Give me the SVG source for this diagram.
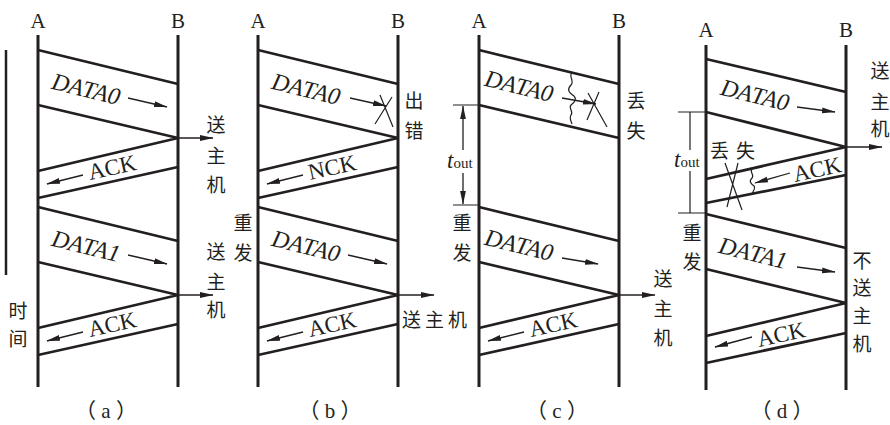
<svg xmlns="http://www.w3.org/2000/svg" width="890" height="425" viewBox="0 0 890 425">
<defs>
<style>
.life{stroke:#231f20;stroke-width:3;fill:none}
.pk{stroke:#231f20;stroke-width:2.7;fill:none}
.ar{stroke:#231f20;stroke-width:1.3;fill:none;marker-end:url(#ah)}
.thin{stroke:#231f20;stroke-width:1.2;fill:none}
.lb{font-family:"Liberation Serif",serif;font-size:21px;fill:#231f20;text-anchor:middle}
.dt{font-family:"Liberation Serif",serif;font-size:24px;font-style:italic;fill:#231f20;text-anchor:middle}
.ak{font-family:"Liberation Serif",serif;font-size:23px;fill:#231f20;text-anchor:middle}
.cj{font-family:"Noto Sans CJK SC","Noto Sans CJK TC",sans-serif;font-size:19px;fill:#231f20;text-anchor:middle}
.cjs{font-family:"Noto Sans CJK SC","Noto Sans CJK TC",sans-serif;font-size:19px;fill:#231f20}
.cap{font-family:"Liberation Serif","Noto Sans CJK SC",serif;font-size:21px;fill:#231f20;text-anchor:middle}
.t{font-family:"Liberation Serif",serif;font-size:23px;font-style:italic;fill:#231f20}
.sub{font-style:normal;font-size:15px}
</style>
<marker id="ah" markerUnits="userSpaceOnUse" markerWidth="14" markerHeight="7" refX="13" refY="3.5" orient="auto" viewBox="0 0 14 7"><path d="M0,0.6 L13.5,3.5 L0,6.4 z" fill="#231f20"/></marker>
</defs>

<!-- Panel (a) -->
<g id="panel-a">
  <g id="a-A"><text class="lb" x="38" y="28">A</text><line class="life" x1="38" y1="35" x2="38" y2="387"/></g>
  <g id="a-B"><text class="lb" x="178" y="28">B</text><line class="life" x1="178" y1="35" x2="178" y2="387"/></g>
  <g id="a-time"><line class="life" x1="6" y1="50" x2="6" y2="275" style="stroke-width:2.5"/><text class="cj" x="18" y="318">时</text><text class="cj" x="18" y="346">间</text></g>
  <g id="a-connectors">
    <path class="pk" d="M38,50 L178,84 M38,105 L178,138 M178,138 L38,171 M178,167 L38,198"/>
    <path class="pk" d="M38,207 L178,241 M38,262 L178,295 M178,295 L38,328 M178,324 L38,355"/>
    <path class="ar" d="M178,138 H213"/>
    <path class="ar" d="M178,295 H213"/>
    <path class="ar" d="M128,98 L167,107"/>
    <path class="ar" d="M83,175 L47,184"/>
    <path class="ar" d="M128,255 L167,264"/>
    <path class="ar" d="M83,332 L47,341"/>
  </g>
  <g id="a-labels">
    <text class="dt" transform="translate(86,89) rotate(13.7)" y="8">DATA0</text>
    <text class="ak" transform="translate(112,167) rotate(-12.5)" y="8">ACK</text>
    <text class="dt" transform="translate(86,246) rotate(13.7)" y="8">DATA1</text>
    <text class="ak" transform="translate(112,324) rotate(-12.5)" y="8">ACK</text>
    <text class="cj" x="216" y="132">送</text><text class="cj" x="216" y="163">主</text><text class="cj" x="216" y="192">机</text>
    <text class="cj" x="216" y="259">送</text><text class="cj" x="216" y="289">主</text><text class="cj" x="216" y="317">机</text>
    <text class="cap" x="106" y="418">（ a ）</text>
  </g>
</g>

<!-- Panel (b) -->
<g id="panel-b" transform="translate(220,0)">
  <g id="b-A"><text class="lb" x="38" y="28">A</text><line class="life" x1="38" y1="35" x2="38" y2="387"/></g>
  <g id="b-B"><text class="lb" x="178" y="28">B</text><line class="life" x1="178" y1="35" x2="178" y2="387"/></g>
  <g id="b-connectors">
    <path class="pk" d="M38,50 L178,84 M38,105 L178,138 M178,138 L38,171 M178,167 L38,198"/>
    <path class="pk" d="M38,207 L178,241 M38,262 L178,295 M178,295 L38,328 M178,324 L38,355"/>
    <path class="ar" d="M130,98 L166,106"/>
    <path class="thin" d="M160,95 L173,127 M155,124 L172,97"/>
    <path class="ar" d="M83,175 L47,184"/>
    <path class="ar" d="M128,255 L167,264"/>
    <path class="ar" d="M83,332 L47,341"/>
    <path class="ar" d="M178,295 H214"/>
  </g>
  <g id="b-labels">
    <text class="dt" transform="translate(86,89) rotate(13.7)" y="8">DATA0</text>
    <text class="cj" x="194" y="108">出</text><text class="cj" x="194" y="138">错</text>
    <text class="ak" transform="translate(112,167) rotate(-12.5)" y="8">NCK</text>
    <text class="cj" x="23" y="230">重</text><text class="cj" x="23" y="260">发</text>
    <text class="dt" transform="translate(86,246) rotate(13.7)" y="8">DATA0</text>
    <text class="ak" transform="translate(112,324) rotate(-12.5)" y="8">ACK</text>
    <text class="cjs" x="182" y="327" letter-spacing="4">送主机</text>
    <text class="cap" x="110" y="418">（ b ）</text>
  </g>
</g>

<!-- Panel (c) -->
<g id="panel-c" transform="translate(441,0)">
  <g id="c-A"><text class="lb" x="38" y="28">A</text><line class="life" x1="38" y1="35" x2="38" y2="387"/></g>
  <g id="c-B"><text class="lb" x="178" y="28">B</text><line class="life" x1="178" y1="35" x2="178" y2="387"/></g>
  <g id="c-connectors">
    <path class="pk" d="M38,50 L178,84 M38,105 L178,138"/>
    <path class="thin" d="M131,73 c-4,3 3,8 -1,12 c-4,4 -3,7 3,11 c3,3 1,6 -3,9 c-3,3 3,7 0,10 c-2,3 0,6 1,9"/>
    <path class="ar" d="M121,98 L155,104"/>
    <path class="thin" d="M146,120 L158,92 M147,93 L166,127"/>
    <path class="thin" d="M12,105 H38 M12,205 H38"/>
    <path class="ar" d="M22,150 V106"/>
    <path class="ar" d="M22,173 V204"/>
    <path class="pk" d="M38,207 L178,241 M38,262 L178,295 M178,295 L38,328 M178,324 L38,355"/>
    <path class="ar" d="M121,258 L157,264"/>
    <path class="ar" d="M83,332 L47,341"/>
    <path class="ar" d="M178,295 H214"/>
  </g>
  <g id="c-labels">
    <text class="dt" transform="translate(78,86) rotate(13.7)" y="8">DATA0</text>
    <text class="cj" x="195" y="108">丢</text><text class="cj" x="195" y="138">失</text>
    <text class="t" x="6" y="168">t<tspan class="sub">out</tspan></text>
    <text class="cj" x="21" y="230">重</text><text class="cj" x="21" y="260">发</text>
    <text class="dt" transform="translate(78,245) rotate(13.7)" y="8">DATA0</text>
    <text class="ak" transform="translate(112,324) rotate(-12.5)" y="8">ACK</text>
    <text class="cj" x="222" y="286">送</text><text class="cj" x="222" y="316">主</text><text class="cj" x="222" y="345">机</text>
    <text class="cap" x="116" y="418">（ c ）</text>
  </g>
</g>

<!-- Panel (d) -->
<g id="panel-d" transform="translate(668,9)">
  <g id="d-A"><text class="lb" x="38" y="28">A</text><line class="life" x1="38" y1="36" x2="38" y2="381"/></g>
  <g id="d-B"><text class="lb" x="178" y="28">B</text><line class="life" x1="178" y1="36" x2="178" y2="381"/></g>
  <g id="d-connectors">
    <path class="pk" d="M38,50 L178,83 M38,103 L178,138 M178,138 L38,170 M178,166 L38,194"/>
    <path class="ar" d="M129,98 L167,103"/>
    <path class="ar" d="M178,138 H214"/>
    <path class="ar" d="M122,164 L87,174"/>
    <path class="thin" d="M84,160 c-3,3 3,6 0,9 c-3,3 -2,5 2,8 c2,2 -1,5 -2,8"/>
    <path class="thin" d="M57,154 L74,201 M70,154 L59,198"/>
    <path class="thin" d="M10,103 H38 M10,204 H38 M22,103 V141 M22,162 V204"/>
    <path class="pk" d="M38,205 L178,239 M38,260 L178,294 M178,294 L38,327 M178,324 L38,354"/>
    <path class="ar" d="M129,258 L167,263"/>
    <path class="ar" d="M84,328 L47,338"/>
  </g>
  <g id="d-labels">
    <text class="dt" transform="translate(87,86) rotate(13.7)" y="8">DATA0</text>
    <text class="cj" x="212" y="69">送</text><text class="cj" x="212" y="100">主</text><text class="cj" x="212" y="127">机</text>
    <text class="ak" transform="translate(149,160) rotate(-12.5)" y="8">ACK</text>
    <text class="cjs" x="42" y="149" letter-spacing="7">丢失</text>
    <text class="t" x="6" y="158">t<tspan class="sub">out</tspan></text>
    <text class="cj" x="24" y="231">重</text><text class="cj" x="24" y="260">发</text>
    <text class="dt" transform="translate(85,244) rotate(13.7)" y="8">DATA1</text>
    <text class="ak" transform="translate(113,325) rotate(-12.5)" y="8">ACK</text>
    <text class="cj" x="194" y="259">不</text><text class="cj" x="194" y="286">送</text><text class="cj" x="194" y="314">主</text><text class="cj" x="194" y="342">机</text>
    <text class="cap" x="114" y="409">（ d ）</text>
  </g>
</g>
</svg>
